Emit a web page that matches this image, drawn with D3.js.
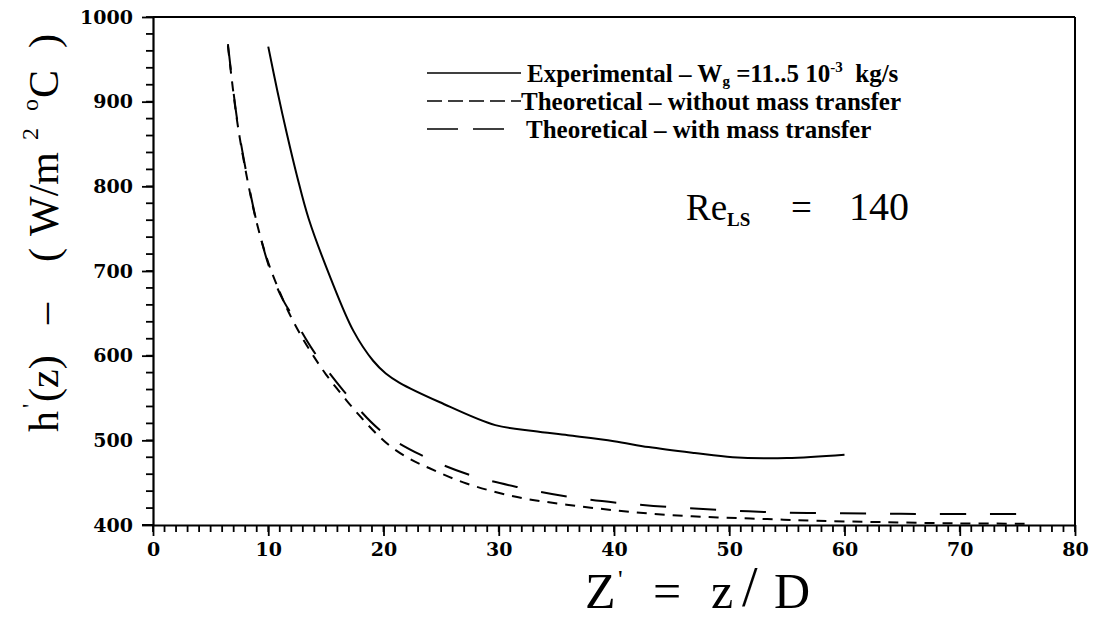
<!DOCTYPE html>
<html><head><meta charset="utf-8">
<script src="https://cdn.jsdelivr.net/npm/d3@7"></script>
<style>body{margin:0;background:#fff} svg{display:block} text{white-space:pre}</style>
</head><body>
<svg id="c" width="1093" height="619"></svg>
<script>
// ---- data ----
const xTicks = [0,10,20,30,40,50,60,70,80];
const yTicks = [400,500,600,700,800,900,1000];
const xMinor = d3.range(0,81,1);
const yMinor = d3.range(400,1001,20);
const expZ = [10,10.8,11.6,12.5,13.5,15.4,17.4,19.1,20.2,21.4,24.9,29.7,33,36,40,43,47,50.3,55,60];
const expH = [965,912,863,812,762,692,629,594,579,568,545,518,511,506,499,492,485,480,479,483];
const noMtZ = [6.5,7.3,8.2,9.0,10.0,11.0,12.0,13.0,14.0,15.0,16.8,18,19.3,20.6,22.3,24,27.2,31.6,35.9,40.3,44.6,49,53.3,57.6,63,69.4,76];
const noMtH = [966,877,807,757,710,675,645,620,598,578,547,528,509,493,478,467,449,433,424,417,412,409,407,405,403.5,402,401.5];
const mtZ = [6.5,7.3,8.2,9.1,10.2,11.2,12.1,13.9,16.5,19.7,23.2,27.5,31.9,36.2,40.5,45,49.5,53.8,58.3,62.8,67,71.5,75.2];
const mtH = [968,879,809,752,700,668,647,606,559,512,483,459,444,433,426,421,417.6,415,414,413.5,413,413,413];
const seriesNames = ["Experimental", "Theoretical – without mass transfer", "Theoretical – with mass transfer"];

// ---- layout ----
const svg = d3.select("#c");
const L = 153, R = 1075, T = 17, B = 525;
const x = d3.scaleLinear().domain([0,80]).range([L,R]);
const y = d3.scaleLinear().domain([400,1000]).range([B,T]);
const serif = "'Liberation Serif', 'Times New Roman', serif";
const tickFont = "'DejaVu Serif', serif";

// major axes
const xAx = svg.append("g").attr("transform",`translate(0,${B})`)
  .call(d3.axisBottom(x).tickValues(xTicks).tickFormat(d3.format("d")).tickSize(11).tickSizeOuter(0).tickPadding(7));
const yAx = svg.append("g").attr("transform",`translate(${L},0)`)
  .call(d3.axisLeft(y).tickValues(yTicks).tickFormat(d3.format("d")).tickSize(11).tickSizeOuter(0).tickPadding(9));
[xAx,yAx].forEach(g=>{
  g.select(".domain").attr("stroke","#000").attr("stroke-width",2.2);
  g.selectAll(".tick line").attr("stroke","#000").attr("stroke-width",1.8);
  g.selectAll(".tick text").attr("fill","#000").style("font-family",tickFont)
   .style("font-weight","bold").style("font-size","19px");
});
// minor ticks (drawn from the scales)
svg.append("g").attr("class","minor-x").selectAll("line").data(xMinor).join("line")
  .attr("x1",d=>x(d)).attr("x2",d=>x(d)).attr("y1",B).attr("y2",B+7)
  .attr("stroke","#000").attr("stroke-width",1.8);
svg.append("g").attr("class","minor-y").selectAll("line").data(yMinor).join("line")
  .attr("x1",L-7).attr("x2",L).attr("y1",d=>y(d)).attr("y2",d=>y(d))
  .attr("stroke","#000").attr("stroke-width",1.8);

svg.append("line").attr("x1",L-11).attr("x2",L).attr("y1",B).attr("y2",B).attr("stroke","#000").attr("stroke-width",2);
// frame top & right
svg.append("line").attr("x1",L).attr("x2",R).attr("y1",T).attr("y2",T).attr("stroke","#000").attr("stroke-width",2);
svg.append("line").attr("x1",R).attr("x2",R).attr("y1",T).attr("y2",B).attr("stroke","#000").attr("stroke-width",2);

// ---- curves ----
const line = d3.line().x(d=>x(d[0])).y(d=>y(d[1])).curve(d3.curveCatmullRom.alpha(0.5));
const series = [
  {name:seriesNames[0], pts:d3.zip(expZ,expH), dash:null},
  {name:seriesNames[1], pts:d3.zip(noMtZ,noMtH), dash:"10,8"},
  {name:seriesNames[2], pts:d3.zip(mtZ,mtH), dash:"26,24"}
];
svg.append("g").selectAll("path").data(series).join("path")
  .attr("d",d=>line(d.pts)).attr("fill","none").attr("stroke","#000")
  .attr("stroke-width",2).attr("stroke-dasharray",d=>d.dash);

// ---- legend ----
const lg = svg.append("g").style("font-family",serif).style("font-weight","bold").style("font-size","25px");
const legDash = [null,"15,6","31,15"];
const legEnd = [521,521,507];
const legTextX = [527,521,526];
[0,1,2].forEach(i=>{
  const by = 82 + i*28;
  lg.append("line").attr("x1",427).attr("x2",legEnd[i]).attr("y1",by-9).attr("y2",by-9)
    .attr("stroke","#000").attr("stroke-width",1.3).attr("stroke-dasharray",legDash[i]);
});
const t0 = lg.append("text").attr("x",legTextX[0]).attr("y",82);
t0.append("tspan").text(seriesNames[0]+" – W");
t0.append("tspan").attr("dy",4).style("font-size","15px").text("g");
t0.append("tspan").attr("dy",-4).text(" =11..5 10");
t0.append("tspan").attr("dy",-10).style("font-size","15px").text("-3");
t0.append("tspan").attr("dy",10).text("  kg/s");
lg.append("text").attr("x",legTextX[1]).attr("y",110).text(seriesNames[1]);
lg.append("text").attr("x",legTextX[2]).attr("y",138).text(seriesNames[2]);

// ---- Re annotation ----
const re = svg.append("text").style("font-family",serif).attr("fill","#000").style("font-size","37px");
re.append("tspan").attr("x",686).attr("y",220).text("Re");
re.append("tspan").attr("x",727).attr("y",226).style("font-size","19px").style("font-weight","bold").text("LS");
re.append("tspan").attr("x",791).attr("y",220).text("=");
re.append("tspan").attr("x",849).attr("y",220).style("font-size","40px").text("140");

// ---- x label ----
const xl = svg.append("text").style("font-family",serif).style("font-size","50px").attr("fill","#000");
xl.append("tspan").attr("x",585).attr("y",608).text("Z");
xl.append("tspan").attr("x",618).attr("y",588).style("font-size","26px").text("'");
xl.append("tspan").attr("x",653).attr("y",608).text("=");
xl.append("tspan").attr("x",711).attr("y",608).text("z");
xl.append("tspan").attr("x",742).attr("y",606).style("font-size","56px").text("/");
xl.append("tspan").attr("x",774).attr("y",608).text("D");

// ---- y label (rotated) ----
const yl = svg.append("text").attr("transform","translate(58,0) rotate(-90)")
  .style("font-family",serif).style("font-size","42px").attr("fill","#000");
const yParts = [
  {t:"h",u:-432,v:0},{t:"'",u:-408,v:-20,s:24},{t:"(z)",u:-402,v:0},{t:"–",u:-324,v:0},
  {t:"(",u:-262,v:0},{t:"W/m",u:-236,v:0},{t:"2",u:-140,v:-20,s:24},{t:"o",u:-111,v:-20,s:24},
  {t:"C",u:-98,v:0},{t:")",u:-48,v:0}
];
yParts.forEach(p=>{
  const ts = yl.append("tspan").attr("x",p.u).attr("y",p.v).text(p.t);
  if(p.s) ts.style("font-size",p.s+"px");
});
</script>
</body></html>
